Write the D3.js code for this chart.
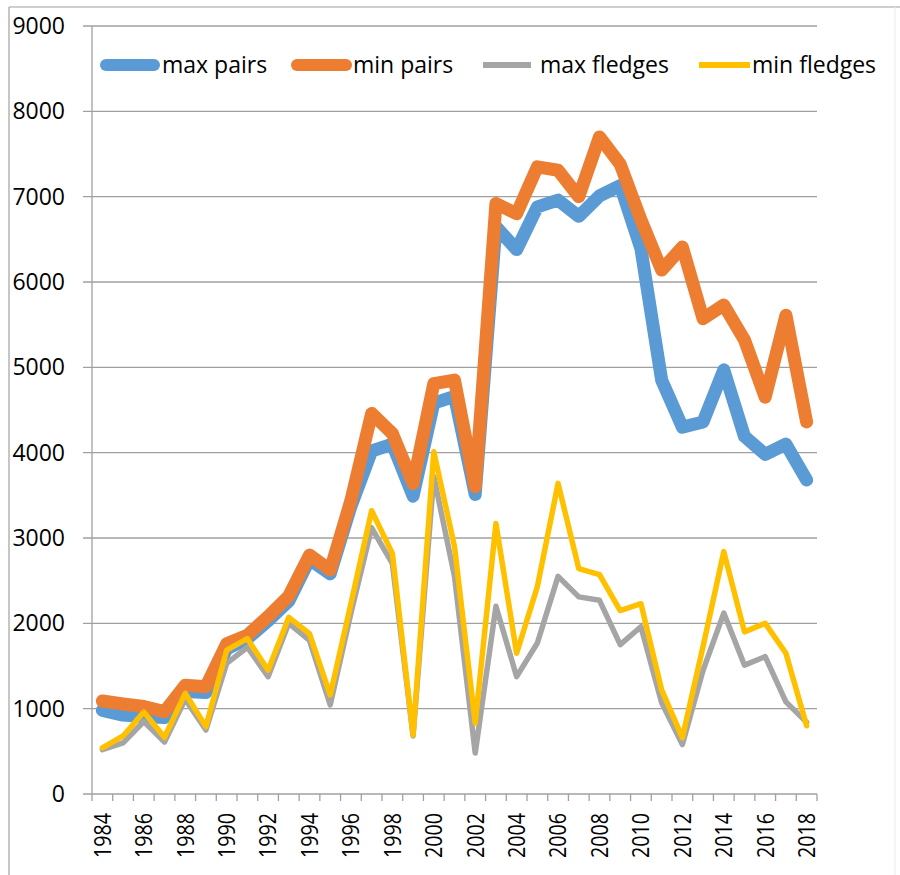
<!DOCTYPE html>
<html>
<head>
<meta charset="utf-8">
<script src="https://cdn.jsdelivr.net/npm/d3@7"></script>
<style>
  html, body { margin: 0; padding: 0; background: #fff; }
  svg { display: block; }
  text { font-family: "Open Sans", "Liberation Sans", sans-serif; fill: #000; }
</style>
</head>
<body>
<svg id="chart" width="900" height="875"></svg>
<script>
const years = [1984,1985,1986,1987,1988,1989,1990,1991,1992,1993,1994,1995,1996,1997,1998,1999,2000,2001,2002,2003,2004,2005,2006,2007,2008,2009,2010,2011,2012,2013,2014,2015,2016,2017,2018];
const maxPairs   = [980,925,905,895,1200,1190,1700,1820,2030,2260,2750,2580,3370,4020,4100,3490,4580,4660,3510,6650,6380,6880,6960,6770,7010,7130,6390,4850,4300,4360,4970,4190,3980,4100,3680];
const minPairs   = [1090,1055,1025,965,1275,1258,1760,1860,2080,2320,2800,2625,3440,4460,4225,3640,4810,4850,3600,6920,6800,7350,7310,7000,7700,7380,6730,6140,6410,5570,5730,5320,4650,5610,4360];
const maxFledges = [520,600,850,610,1110,750,1530,1720,1375,2000,1800,1045,2120,3120,2700,680,3720,2550,480,2200,1375,1770,2550,2310,2270,1750,1960,1070,580,1450,2120,1510,1610,1080,840];
const minFledges = [540,680,960,665,1180,790,1685,1820,1450,2070,1880,1160,2230,3320,2820,690,4010,2900,830,3170,1650,2430,3640,2640,2570,2150,2230,1220,660,1730,2840,1900,2000,1650,800];
const yTicks = [0,1000,2000,3000,4000,5000,6000,7000,8000,9000];
const xLabelYears = [1984,1986,1988,1990,1992,1994,1996,1998,2000,2002,2004,2006,2008,2010,2012,2014,2016,2018];
const seriesNames = ["max pairs","min pairs","max fledges","min fledges"];
const seriesColors = ["#5B9BD5","#ED7D31","#A5A5A5","#FFC000"];
const seriesWidths = [13,13,5.5,5.5];
const seriesData = [maxPairs, minPairs, maxFledges, minFledges];

const svg = d3.select("#chart");

// outer frame (top + left visible, right very faint)
svg.append("line").attr("x1",9).attr("x2",900).attr("y1",7).attr("y2",7)
  .attr("stroke","#a0a0a0").attr("stroke-width",1.2);
svg.append("line").attr("x1",9).attr("x2",9).attr("y1",7).attr("y2",875)
  .attr("stroke","#a0a0a0").attr("stroke-width",1.2);
svg.append("line").attr("x1",895).attr("x2",895).attr("y1",7).attr("y2",875)
  .attr("stroke","#ececec").attr("stroke-width",1);

const x = d3.scaleBand().domain(years).range([92, 817]).paddingInner(0).paddingOuter(0);
const y = d3.scaleLinear().domain([0, 9000]).range([794, 26]);
const cx = d => x(d) + x.bandwidth()/2;

// gridlines + y ticks
svg.append("g").selectAll("line").data(yTicks).join("line")
  .attr("x1", 83).attr("x2", 817)
  .attr("y1", d => y(d)).attr("y2", d => y(d))
  .attr("stroke", "#a0a0a0").attr("stroke-width", 1.3);

// y axis line
svg.append("line").attr("x1",92).attr("x2",92).attr("y1",y(9000)).attr("y2",y(0))
  .attr("stroke","#a0a0a0").attr("stroke-width",1.3);

// y labels
svg.append("g").selectAll("text").data(yTicks).join("text")
  .attr("x", 65).attr("y", d => y(d)).attr("dy","0.35em")
  .attr("text-anchor","end").style("font-size","23px")
  .text(d => d);

// x tick marks at band boundaries
const boundaries = years.map(d => x(d)).concat([x(years[years.length-1]) + x.bandwidth()]);
svg.append("g").selectAll("line").data(boundaries).join("line")
  .attr("x1", d => d).attr("x2", d => d)
  .attr("y1", y(0)).attr("y2", y(0) + 7)
  .attr("stroke","#a0a0a0").attr("stroke-width",1.3);

// x labels rotated
svg.append("g").selectAll("text").data(xLabelYears).join("text")
  .attr("transform", d => `translate(${cx(d)},813) scale(1.18,1) rotate(-90)`)
  .attr("text-anchor","end").attr("dy","0.36em")
  .style("font-size","19.7px")
  .text(d => d);

// lines
const line = d3.line().x((d,i) => cx(years[i])).y(d => y(d));
seriesData.forEach((s, k) => {
  svg.append("path").datum(s)
    .attr("d", line)
    .attr("fill","none")
    .attr("stroke", seriesColors[k])
    .attr("stroke-width", seriesWidths[k])
    .attr("stroke-linejoin","round")
    .attr("stroke-linecap","round");
});

// legend
const legendItems = [
  {x1:106, x2:154, tx:162},
  {x1:297, x2:346, tx:353},
  {x1:483, x2:531, tx:540},
  {x1:699, x2:750, tx:752}
];
const lg = svg.append("g");
legendItems.forEach((it, k) => {
  lg.append("line").attr("x1",it.x1).attr("x2",it.x2).attr("y1",65).attr("y2",65)
    .attr("stroke",seriesColors[k]).attr("stroke-width",seriesWidths[k] === 13 ? 12 : 6)
    .attr("stroke-linecap", seriesWidths[k] === 13 ? "round" : "butt");
  lg.append("text").attr("x",it.tx).attr("y",65).attr("dy","0.35em")
    .style("font-size","23px").text(seriesNames[k]);
});
</script>
</body>
</html>
